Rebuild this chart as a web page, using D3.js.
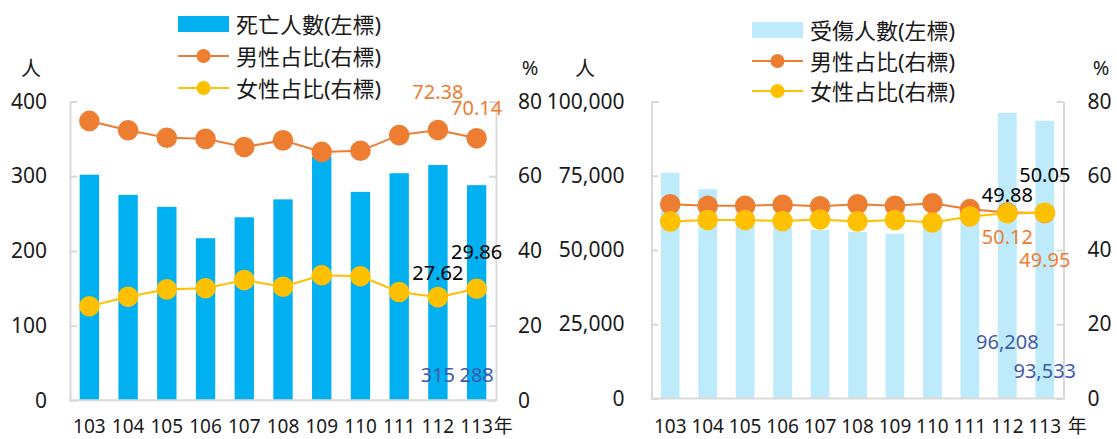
<!DOCTYPE html>
<html>
<head>
<meta charset="utf-8">
<script src="https://cdn.jsdelivr.net/npm/d3@7"></script>
<style>
  body { margin: 0; background: #fff; }
  svg text { font-family: "Noto Sans", "Noto Sans CJK TC", sans-serif; fill: #1a1a1a; }
  .axis path, .axis line { stroke: #d9d9d9; stroke-width: 2; }
</style>
</head>
<body>
<div id="chart"></div>
<script>
// categories (民國年)
const years = ["103", "104", "105", "106", "107", "108", "109", "110", "111", "112", "113"];

// 死亡人數 and gender shares (%)
const deaths = [302, 275, 259, 217, 245, 269, 326, 279, 304, 315, 288];
const deathMale = [74.8, 72.3, 70.3, 70.0, 67.8, 69.6, 66.5, 66.8, 71.0, 72.38, 70.14];
const deathFemale = [25.2, 27.7, 29.7, 30.0, 32.2, 30.4, 33.5, 33.2, 29.0, 27.62, 29.86];

// 受傷人數 and gender shares (%)
const injured = [76000, 70500, 59500, 57800, 56800, 56100, 55500, 58500, 61000, 96208, 93533];
const injuredMale = [52.3, 51.9, 51.9, 52.2, 51.8, 52.3, 51.9, 52.6, 51.0, 50.12, 49.95];
const injuredFemale = [47.7, 48.1, 48.1, 47.8, 48.2, 47.7, 48.1, 47.4, 49.0, 49.88, 50.05];

// tick labels
const deathTicks = [0, 100, 200, 300, 400];
const injuredTicks = [0, 25000, 50000, 75000, 100000];
const pctTicks = [0, 20, 40, 60, 80];

const svg = d3.select("#chart").append("svg")
    .attr("width", 1117)
    .attr("height", 439);

const colors = { male: "#ED7D31", female: "#FFC000", label: "#3E5BA9" };

function drawPanel(cfg) {
    let g = svg.append("g");

    let x = d3.scaleBand()
        .domain(years)
        .range([cfg.x0, cfg.x1])
        .paddingInner(0.5)
        .paddingOuter(0.25);

    let y = d3.scaleLinear()
        .domain([0, cfg.ticks[cfg.ticks.length - 1]])
        .range([cfg.yBottom, cfg.yTop]);

    let yPct = d3.scaleLinear()
        .domain([0, 80])
        .range([cfg.yBottom, cfg.yTop]);

    // bars
    g.selectAll(".bar")
        .data(cfg.bars)
        .enter().append("rect")
        .attr("class", "bar")
        .attr("x", (d, i) => x(years[i]))
        .attr("width", x.bandwidth())
        .attr("y", d => y(d))
        .attr("height", d => cfg.yBottom - y(d))
        .attr("fill", cfg.barColor);

    // axes
    let leftAxis = d3.axisLeft(y)
        .tickValues(cfg.ticks)
        .tickSize(-7)
        .tickSizeOuter(0)
        .tickPadding(cfg.leftPad)
        .tickFormat(d3.format(","));
    let rightAxis = d3.axisRight(yPct)
        .tickValues(pctTicks)
        .tickSize(-7)
        .tickSizeOuter(0)
        .tickPadding(cfg.rightPad);

    [[leftAxis, cfg.x0], [rightAxis, cfg.x1]].forEach(([ax, pos]) => {
        let a = g.append("g")
            .attr("class", "axis")
            .attr("transform", "translate(" + pos + ",0)")
            .call(ax);
        a.selectAll("text")
            .style("font-size", "21px")
            .attr("fill", "#1a1a1a");
    });

    g.append("line")
        .attr("x1", cfg.x0 - 1).attr("x2", cfg.x1 + 1)
        .attr("y1", cfg.yBottom).attr("y2", cfg.yBottom)
        .attr("stroke", "#d9d9d9")
        .attr("stroke-width", 2);

    // category labels
    g.selectAll(".xlab")
        .data(years)
        .enter().append("text")
        .attr("x", d => x(d) + x.bandwidth() / 2)
        .attr("y", 426)
        .attr("text-anchor", "middle")
        .attr("dominant-baseline", "central")
        .style("font-size", "19px")
        .text(d => d);

    g.append("text")
        .attr("x", x(years[years.length - 1]) + x.bandwidth() / 2 + 17 + cfg.yearGap)
        .attr("y", 426)
        .attr("dominant-baseline", "central")
        .style("font-size", "19px")
        .text("年");

    // lines + markers
    let line = d3.line()
        .x((d, i) => x(years[i]) + x.bandwidth() / 2)
        .y(d => yPct(d));

    [[cfg.male, colors.male], [cfg.female, colors.female]].forEach(([series, col]) => {
        g.append("path")
            .datum(series)
            .attr("fill", "none")
            .attr("stroke", col)
            .attr("stroke-width", 2)
            .attr("d", line);
        g.selectAll(null)
            .data(series)
            .enter().append("circle")
            .attr("cx", (d, i) => x(years[i]) + x.bandwidth() / 2)
            .attr("cy", d => yPct(d))
            .attr("r", 10.3)
            .attr("fill", col);
    });

    // data labels (last two years)
    let fmtBar = cfg.ticks[cfg.ticks.length - 1] > 1000 ? d3.format(",") : d3.format("d");
    [9, 10].forEach((idx, k) => {
        let cx = x(years[idx]) + x.bandwidth() / 2;
        g.append("text")
            .attr("x", cx).attr("y", yPct(cfg.male[idx]) + cfg.maleOff[k])
            .attr("text-anchor", "middle").attr("dominant-baseline", "central")
            .style("font-size", "20px").style("fill", colors.male)
            .text(cfg.male[idx].toFixed(2));
        g.append("text")
            .attr("x", cx).attr("y", yPct(cfg.female[idx]) + cfg.femaleOff[k])
            .attr("text-anchor", "middle").attr("dominant-baseline", "central")
            .style("font-size", "20px").style("fill", "#000")
            .text(cfg.female[idx].toFixed(2));
        g.append("text")
            .attr("x", cx).attr("y", cfg.yBottom - cfg.barOff[k])
            .attr("text-anchor", "middle").attr("dominant-baseline", "central")
            .style("font-size", "20px").style("fill", colors.label)
            .text(fmtBar(cfg.bars[idx]));
    });

    // unit labels
    g.append("text").attr("x", cfg.unitLeft).attr("y", 68)
        .attr("text-anchor", "middle").attr("dominant-baseline", "central")
        .style("font-size", "20px").text("人");
    g.append("text").attr("x", cfg.unitRight).attr("y", 67)
        .attr("text-anchor", "middle").attr("dominant-baseline", "central")
        .style("font-size", "20px").text("%");

    // legend
    let lg = g.append("g");
    let ly = cfg.legendY;
    lg.append("rect")
        .attr("x", cfg.legendX).attr("y", ly[0] - 8)
        .attr("width", 51).attr("height", 16)
        .attr("fill", cfg.barColor);
    [[colors.male, ly[1]], [colors.female, ly[2]]].forEach(([col, yy]) => {
        lg.append("line")
            .attr("x1", cfg.legendX).attr("x2", cfg.legendX + 51)
            .attr("y1", yy).attr("y2", yy)
            .attr("stroke", col).attr("stroke-width", 2);
        lg.append("circle")
            .attr("cx", cfg.legendX + 25.5).attr("cy", yy).attr("r", 7)
            .attr("fill", col);
    });
    cfg.legendText.forEach((t, i) => {
        lg.append("text")
            .attr("x", cfg.legendX + 58).attr("y", ly[i])
            .attr("dominant-baseline", "central")
            .style("font-size", "22px")
            .text(t);
    });
}

drawPanel({
    x0: 70, x1: 496, yTop: 101.5, yBottom: 400.3,
    bars: deaths, male: deathMale, female: deathFemale,
    ticks: deathTicks, barColor: "#00B0F0",
    leftPad: 23, rightPad: 22, yearGap: 0,
    maleOff: [-38, -31], femaleOff: [-25, -37], barOff: [26, 26],
    unitLeft: 31, unitRight: 530,
    legendX: 178, legendY: [24, 56, 88],
    legendText: ["死亡人數(左標)", "男性占比(右標)", "女性占比(右標)"]
});

drawPanel({
    x0: 651.5, x1: 1063.5, yTop: 101.5, yBottom: 398.5,
    bars: injured, male: injuredMale, female: injuredFemale,
    ticks: injuredTicks, barColor: "#BDEBFC",
    leftPad: 27, rightPad: 24, yearGap: 6,
    maleOff: [24, 46], femaleOff: [-19, -38], barOff: [57.5, 28.5],
    unitLeft: 585, unitRight: 1101,
    legendX: 752, legendY: [30, 61, 91],
    legendText: ["受傷人數(左標)", "男性占比(右標)", "女性占比(右標)"]
});
</script>
</body>
</html>
